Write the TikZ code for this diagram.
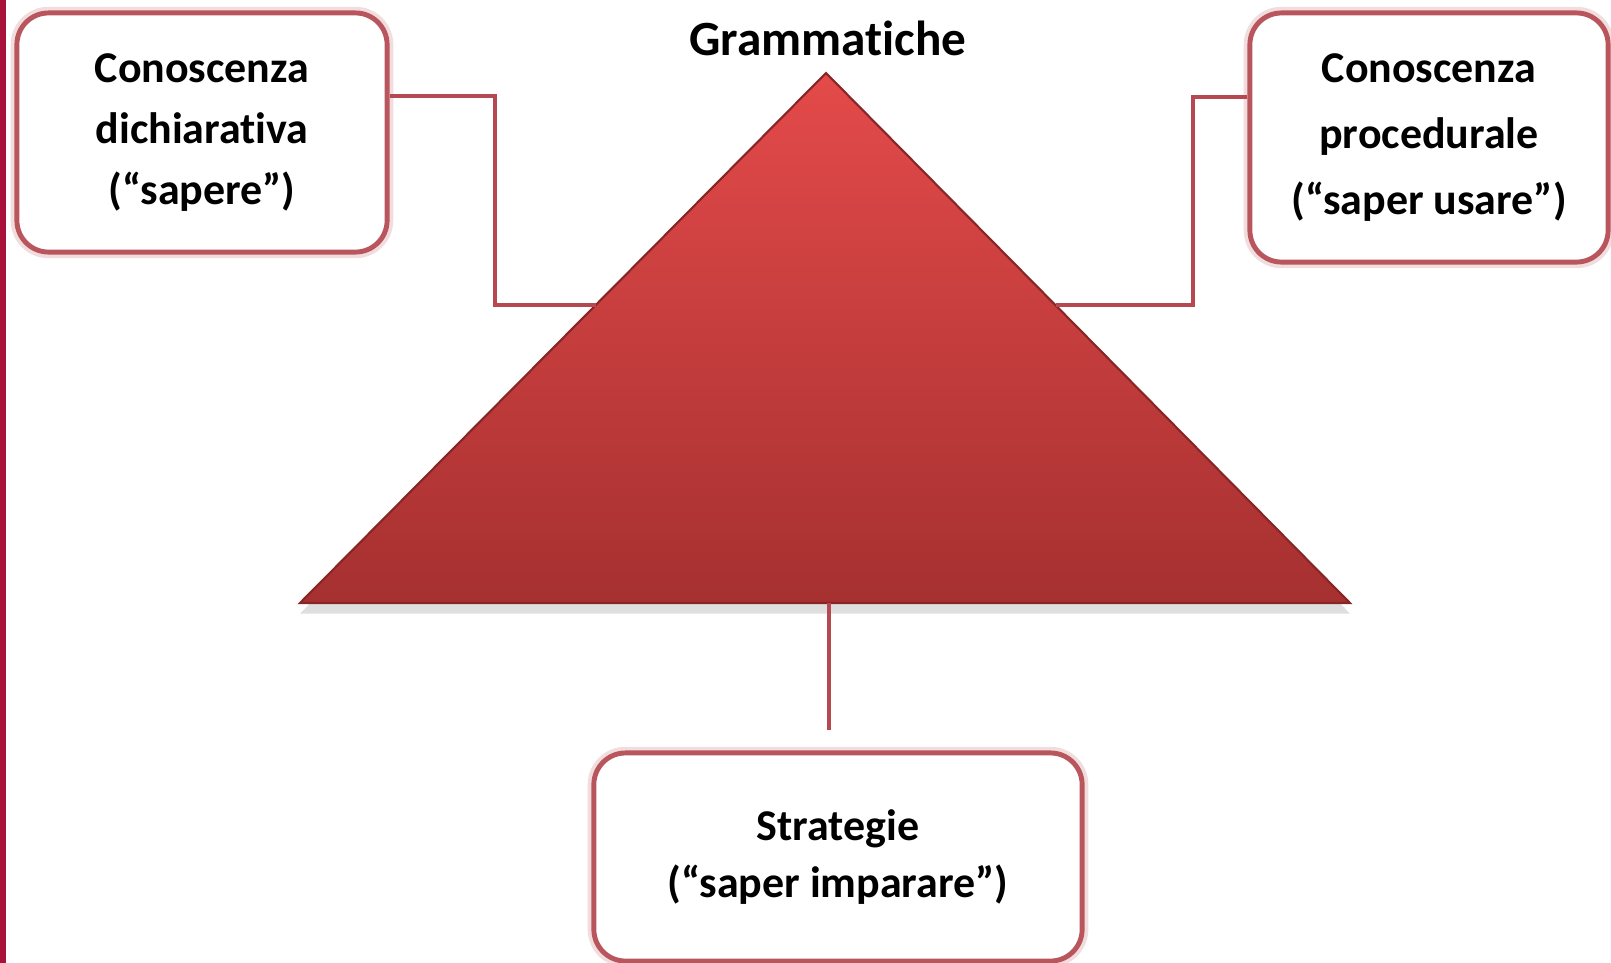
\documentclass[tikz,border=0pt]{standalone}
\usepackage{fontspec}
\setmainfont[Ligatures=NoCommon]{Carlito}
\usepackage{tikz}
\usetikzlibrary{shadows}
\definecolor{barred}{RGB}{168,18,58}
\definecolor{boxred}{RGB}{185,85,92}
\definecolor{linkred}{RGB}{182,72,82}
\definecolor{tritop}{RGB}{228,74,74}
\definecolor{tribot}{RGB}{166,48,48}
\definecolor{triedge}{RGB}{135,38,38}
\tikzset{
	cbox/.style 2 args={draw=boxred,line width=1.4pt,rounded corners=9pt,fill=white,
		minimum width=#1,minimum height=#2,align=center,inner sep=0pt,
		preaction={draw=boxred!20,line width=3.5pt}},
	link/.style={draw=linkred,line width=1.1pt},
	tri/.style={top color=tritop,bottom color=tribot,draw=triedge,line width=0.6pt,
		drop shadow={shadow xshift=0pt,shadow yshift=-3pt,opacity=0.25}}
}
\begin{document}
\begin{tikzpicture}[x=0.01cm,y=-0.01cm]
						\useasboundingbox (0,0) rectangle (1611,963);
						\fill [barred] (0,0) rectangle (6,963);

						% triangle
						\coordinate (top) at (826,73);
						\coordinate (bl) at (300,603);
						\coordinate (br) at (1350,603);
						\path [tri] (top) -- (br) -- (bl) -- cycle;
						\node [font=\bfseries\fontsize{14}{17}\selectfont] (gram) at (828,38) {Grammatiche};

						% boxes
						\node [cbox={3.7cm}{2.39cm},font=\bfseries\fontsize{12.5}{17.4}\selectfont] (dich) at (202,132.5)
							{Conoscenza\\dichiarativa\\(“sapere”)};
						\node [cbox={3.58cm}{2.49cm},font=\bfseries\fontsize{12.5}{18.7}\selectfont] (proc) at (1429,137.5)
							{Conoscenza\\procedurale\\(“saper usare”)};
						\node [cbox={4.88cm}{2.08cm},font=\bfseries\fontsize{12.5}{16.4}\selectfont] (strat) at (838,857)
							{Strategie\\(“saper imparare”)};

						% connectors
						\coordinate (ld) at (495,96);
						\coordinate (le) at (596,305);
						\coordinate (rd) at (1193,97);
						\coordinate (re) at (1056,305);
						\coordinate (bt) at (829,603);
						\coordinate (bb) at (829,730);
						\draw [link] (dich.east |- ld) -- (ld) -- (ld |- le) -- (le);
						\draw [link] (proc.west |- rd) -- (rd) -- (rd |- re) -- (re);
						\draw [link] (bt) -- (bb);
					\end{tikzpicture}
\end{document}
